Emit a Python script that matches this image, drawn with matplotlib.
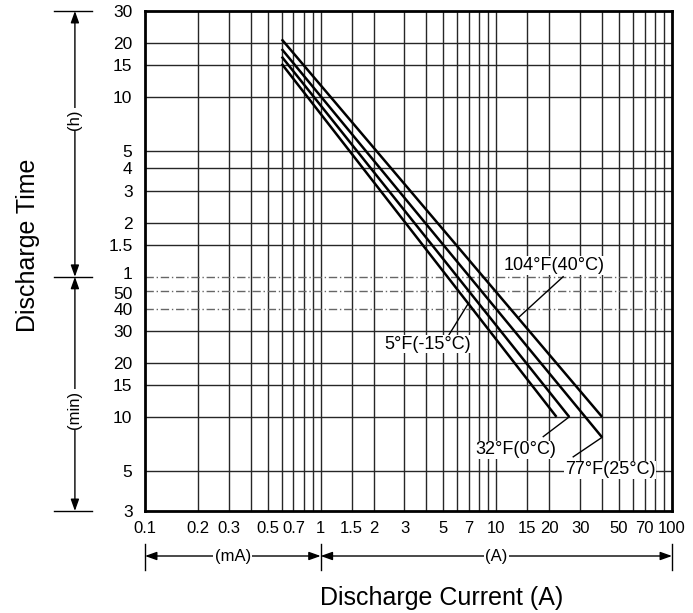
import numpy as np
import matplotlib
matplotlib.use('Agg')
import matplotlib.pyplot as plt
import matplotlib.transforms as mtransforms

plt.rcParams['font.family'] = ['Liberation Sans', 'DejaVu Sans']

# Discharge curves (current in A, time in minutes), one per temperature.
temp_labels = ['5°F(-15°C)', '32°F(0°C)', '77°F(25°C)', '104°F(40°C)']
start_current = [0.6, 0.6, 0.6, 0.6]
start_time = [916, 1004, 1107, 1253]
end_current = [22, 26, 40, 40]
end_time = [10, 10, 7.7, 10]

# Label placement (text centre) and where the leader starts.
label_xy = [(4.08, 25.4), (12.9, 6.55), (44.4, 5.07), (21.3, 69.2)]
leader_from = [(5.33, 28.2), (18.5, 7.77), (27.4, 6.0), (24.0, 60.1)]
leader_at_x = [6.92, 26, 40, 13.3]

# Axis ticks.
x_ticks = [0.1, 0.2, 0.3, 0.5, 0.7, 1, 1.5, 2, 3, 5, 7, 10, 15, 20, 30, 50, 70, 100]
x_tick_labels = ['0.1', '0.2', '0.3', '0.5', '0.7', '1', '1.5', '2', '3', '5',
                 '7', '10', '15', '20', '30', '50', '70', '100']
x_grid = [0.2, 0.3, 0.4, 0.5, 0.6, 0.7, 0.8, 0.9, 1, 1.5, 2, 3, 4, 5, 6, 7, 8, 9,
          10, 15, 20, 30, 40, 50, 60, 70, 80, 90]
y_ticks = [1800, 1200, 900, 600, 300, 240, 180, 120, 90, 60, 50, 40, 30, 20, 15, 10, 5, 3]
y_tick_labels = ['30', '20', '15', '10', '5', '4', '3', '2', '1.5', '1',
                 '50', '40', '30', '20', '15', '10', '5', '3']
y_grid_solid = [1200, 900, 600, 300, 240, 180, 120, 90, 30, 20, 15, 10, 5]
y_grid_dashed = [60, 50, 40]

fig = plt.figure(figsize=(6.93, 6.13), dpi=100)
ax = fig.add_axes([145 / 693, 1 - 511 / 613, 527 / 693, 500 / 613])
ax.set_xscale('log')
ax.set_yscale('log')
ax.set_xlim(0.1, 100)
ax.set_ylim(3, 1800)

for xv in x_grid:
    ax.axvline(xv, color='#262626', lw=1.0, zorder=1)
for yv in y_grid_solid:
    ax.axhline(yv, color='#262626', lw=1.0, zorder=1)
for yv in y_grid_dashed:
    ax.axhline(yv, color='#666666', lw=1.0, ls=(0, (6, 2, 1, 2)), zorder=1)

ax.set_xticks(x_ticks)
ax.set_xticklabels(x_tick_labels)
ax.set_yticks(y_ticks)
ax.set_yticklabels(y_tick_labels)
ax.minorticks_off()
ax.tick_params(axis='x', length=0, pad=7, labelsize=12)
ax.tick_params(axis='y', length=0, pad=9, labelsize=12.5)
for s in ax.spines.values():
    s.set_linewidth(2)
    s.set_zorder(5)

# the "1" (hour) and "50" (min) labels sit close together; nudge them apart
ylabels = ax.get_yticklabels()
ylabels[9].set_transform(ylabels[9].get_transform()
                         + mtransforms.ScaledTranslation(0, 3 / 72, fig.dpi_scale_trans))
ylabels[10].set_transform(ylabels[10].get_transform()
                          + mtransforms.ScaledTranslation(0, -1.5 / 72, fig.dpi_scale_trans))

# Curves
for i in range(len(temp_labels)):
    ax.plot([start_current[i], end_current[i]], [start_time[i], end_time[i]],
            color='black', lw=1.8, zorder=3, solid_capstyle='butt')


def time_on_curve(i, xv):
    lx0, lx1 = np.log10(start_current[i]), np.log10(end_current[i])
    ly0, ly1 = np.log10(start_time[i]), np.log10(end_time[i])
    return 10 ** (ly0 + (np.log10(xv) - lx0) * (ly1 - ly0) / (lx1 - lx0))


for i, lab in enumerate(temp_labels):
    lx, ly = leader_from[i]
    tx = leader_at_x[i]
    ax.plot([lx, tx], [ly, time_on_curve(i, tx)], color='black', lw=1.0, zorder=3)
    ax.text(label_xy[i][0], label_xy[i][1], lab, fontsize=13, ha='center', va='center',
            zorder=4, bbox=dict(facecolor='white', edgecolor='none', pad=0.5))

# Left side: (h) / (min) range arrows
ty = mtransforms.blended_transform_factory(ax.transAxes, ax.transData)
arrow_kw = dict(arrowstyle='<|-|>,head_length=0.7,head_width=0.25', color='black',
                lw=1.0, shrinkA=0, shrinkB=0)
ax.annotate('', xy=(-0.133, 1800), xytext=(-0.133, 60), xycoords=ty,
            arrowprops=arrow_kw, annotation_clip=False)
ax.annotate('', xy=(-0.133, 60), xytext=(-0.133, 3), xycoords=ty,
            arrowprops=arrow_kw, annotation_clip=False)
for yv in [1800, 60, 3]:
    ax.plot([-0.172, -0.1], [yv, yv], transform=ty, color='black', lw=1.0, clip_on=False)
ax.text(-0.133, 450, '(h)', transform=ty, rotation=90, ha='center', va='center',
        fontsize=12, bbox=dict(facecolor='white', edgecolor='none', pad=1))
ax.text(-0.133, 11, '(min)', transform=ty, rotation=90, ha='center', va='center',
        fontsize=12, bbox=dict(facecolor='white', edgecolor='none', pad=1))

# Bottom: (mA) / (A) range arrows
tx_ = mtransforms.blended_transform_factory(ax.transData, ax.transAxes)
ax.annotate('', xy=(0.1, -0.09), xytext=(1, -0.09), xycoords=tx_,
            arrowprops=arrow_kw, annotation_clip=False)
ax.annotate('', xy=(1, -0.09), xytext=(100, -0.09), xycoords=tx_,
            arrowprops=arrow_kw, annotation_clip=False)
for xv in [0.1, 1, 100]:
    ax.plot([xv, xv], [-0.066, -0.118], transform=tx_, color='black', lw=1.0, clip_on=False)
ax.text(0.316, -0.09, '(mA)', transform=tx_, ha='center', va='center', fontsize=12,
        bbox=dict(facecolor='white', edgecolor='none', pad=1))
ax.text(10, -0.09, '(A)', transform=tx_, ha='center', va='center', fontsize=12,
        bbox=dict(facecolor='white', edgecolor='none', pad=1))

ax.text(0.562, -0.174, 'Discharge Current (A)', transform=ax.transAxes,
        ha='center', va='center', fontsize=18)
ax.text(-0.222, 0.532, 'Discharge Time', transform=ax.transAxes, rotation=90,
        ha='center', va='center', fontsize=18)

fig.savefig('out.png', dpi=100)
